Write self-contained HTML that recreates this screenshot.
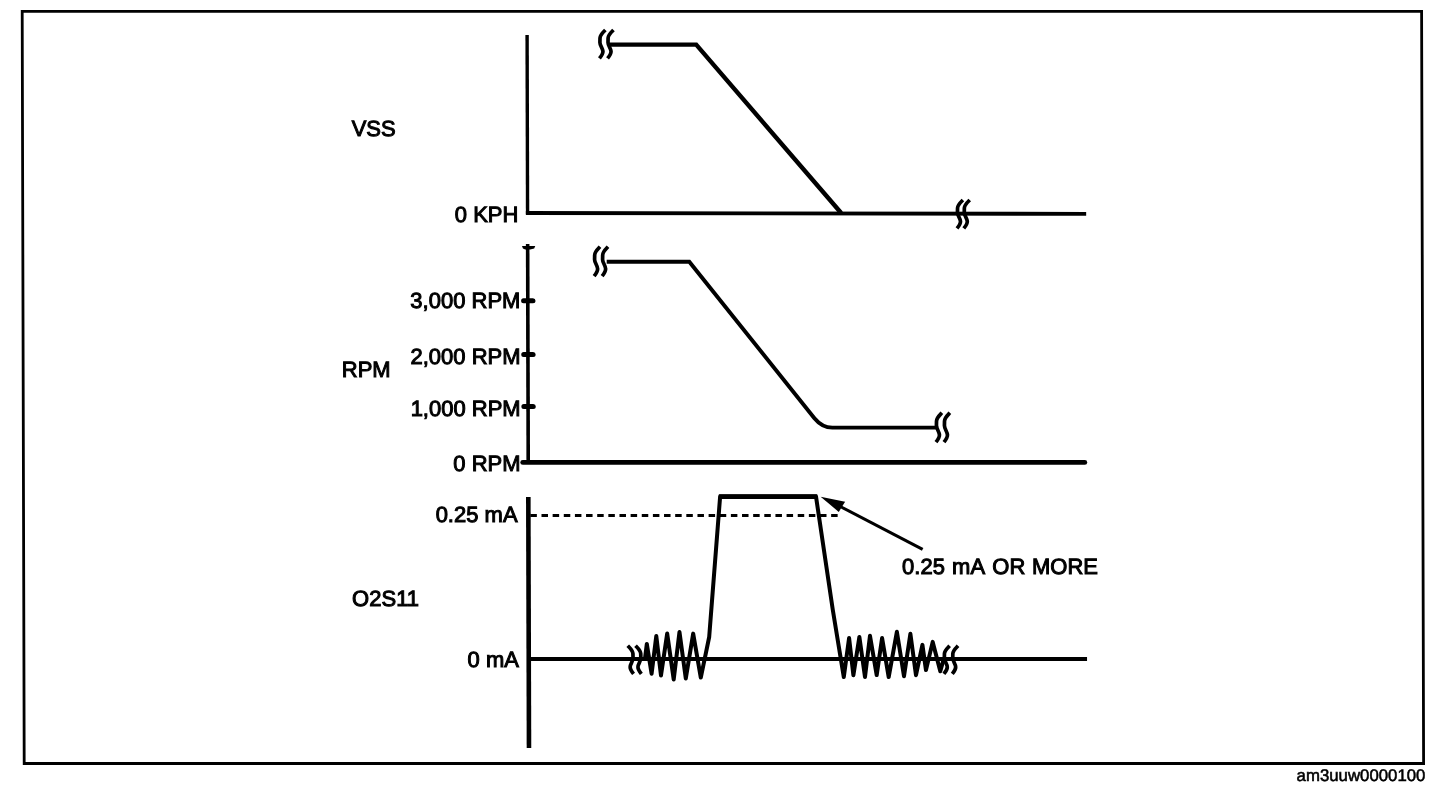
<!DOCTYPE html>
<html lang="en">
<head>
<meta charset="utf-8">
<title>O2S11 waveform</title>
<style>
html,body{margin:0;padding:0;background:#fff;}
body{width:1456px;height:786px;position:relative;overflow:hidden;font-family:"Liberation Sans",Arial,Helvetica,sans-serif;}
</style>
</head>
<body>
<svg width="1456" height="786" viewBox="0 0 1456 786" style="position:absolute;left:0;top:0;font-family:'Liberation Sans',Arial,Helvetica,sans-serif" fill="#000">
<path d="M22.2,11.4 L1421.6,11.4 L1423.6,763.5 L24.2,763.5 Z" fill="none" stroke="#000" stroke-width="2.8" stroke-linejoin="miter"/>
<g transform="matrix(1 0 0.00265 1 0 0)">
<path d="M527,35 L527,214" fill="none" stroke="#000" stroke-width="3.4"/>
<path d="M525.3,213.0 L1085.6,213.9" fill="none" stroke="#000" stroke-width="3.9"/>
<path d="M608,44.6 L696.1,44.6 L840.6,213" fill="none" stroke="#000" stroke-width="4.4" stroke-linejoin="miter"/>
<path d="M605.3,30.0 C603.3,32.0 600.1,34.7 599.9,38.0 L599.8,42.4 C599.8,45.7 602.7,48.2 602.8,51.4 C602.9,54.0 601.1,56.2 599.3,58.4" fill="none" stroke="#000" stroke-width="3.7" stroke-linecap="butt" stroke-linejoin="round"/>
<path d="M613.4,30.0 C611.4,32.0 608.2,34.7 608.0,38.0 L607.9,42.4 C607.9,45.7 610.8,48.2 610.9,51.4 C611.0,54.0 609.2,56.2 607.4,58.4" fill="none" stroke="#000" stroke-width="3.7" stroke-linecap="butt" stroke-linejoin="round"/>
<path d="M962.4,200.0 C960.4,202.0 957.2,204.7 957.0,208.0 L956.9,212.4 C956.9,215.7 959.8,218.2 959.9,221.4 C960.0,224.0 958.2,226.2 956.4,228.4" fill="none" stroke="#000" stroke-width="3.7" stroke-linecap="butt" stroke-linejoin="round"/>
<path d="M969.2,200.0 C967.2,202.0 964.0,204.7 963.8,208.0 L963.7,212.4 C963.7,215.7 966.6,218.2 966.7,221.4 C966.8,224.0 965.0,226.2 963.2,228.4" fill="none" stroke="#000" stroke-width="3.7" stroke-linecap="butt" stroke-linejoin="round"/>
<path d="M527,244 L527,462.4" fill="none" stroke="#000" stroke-width="3.6"/>
<path d="M521.5,462.4 L1083.6,462.4" fill="none" stroke="#000" stroke-width="4.8" stroke-linecap="round"/>
<path d="M521.3,246 L534.6,246 L533.5,248.6 L529.5,249.6 L524.5,249.6 L522.3,248.6 Z" fill="#000"/>
<line x1="522.8" y1="300.7" x2="532.2" y2="300.7" stroke="#000" stroke-width="5" stroke-linecap="round"/>
<line x1="522.8" y1="354.5" x2="532.2" y2="354.5" stroke="#000" stroke-width="5" stroke-linecap="round"/>
<line x1="522.8" y1="406.5" x2="532.2" y2="406.5" stroke="#000" stroke-width="5" stroke-linecap="round"/>
<path d="M606,261.8 L688.6,261.8 L813.3,418.2 Q821,427.6 831.2,427.6 L937,427.6" fill="none" stroke="#000" stroke-width="3.9" stroke-linejoin="miter"/>
<path d="M599.4,246.7 C597.4,248.8 594.2,251.6 594.0,255.0 L593.9,259.5 C593.9,262.9 596.8,265.5 596.9,268.8 C597.0,271.5 595.2,273.8 593.4,276.1" fill="none" stroke="#000" stroke-width="3.7" stroke-linecap="butt" stroke-linejoin="round"/>
<path d="M607.4,246.7 C605.4,248.8 602.2,251.6 602.0,255.0 L601.9,259.5 C601.9,262.9 604.8,265.5 604.9,268.8 C605.0,271.5 603.2,273.8 601.4,276.1" fill="none" stroke="#000" stroke-width="3.7" stroke-linecap="butt" stroke-linejoin="round"/>
<path d="M940.8,412.8 C938.8,414.9 935.6,417.7 935.4,421.1 L935.3,425.6 C935.3,429.1 938.2,431.6 938.3,434.9 C938.4,437.6 936.6,439.9 934.8,442.2" fill="none" stroke="#000" stroke-width="3.7" stroke-linecap="butt" stroke-linejoin="round"/>
<path d="M948.8,412.8 C946.8,414.9 943.6,417.7 943.4,421.1 L943.3,425.6 C943.3,429.1 946.2,431.6 946.3,434.9 C946.4,437.6 944.6,439.9 942.8,442.2" fill="none" stroke="#000" stroke-width="3.7" stroke-linecap="butt" stroke-linejoin="round"/>
<path d="M527,497 L527,748" fill="none" stroke="#000" stroke-width="4.6"/>
<path d="M527,659 L1085.3,659" fill="none" stroke="#000" stroke-width="4.2"/>
<line x1="529" y1="515.4" x2="837.5" y2="515.4" stroke="#000" stroke-width="3.0" stroke-dasharray="6.5 4.64"/>
<path d="M643.2,659.0 L645.1,643.9 L649.8,673.8 L654.6,635.9 L659.2,675.5 L665.5,633.6 L671.9,679.5 L677.8,631.9 L684.0,678.4 L691.5,633.6 L699.0,677.6 L707.5,637.0 L718.8,496.6 L814.7,496.6 L831.2,610.0 L842.0,677.1 L847.4,638.0 L851.6,675.2 L857.7,636.9 L863.2,677.1 L868.3,635.8 L874.9,675.1 L880.4,638.0 L886.9,677.1 L895.2,631.8 L902.2,676.2 L908.7,633.8 L914.2,675.2 L920.7,644.9 L924.2,670.1 L931.0,641.9 L938.5,671.2 L942.0,659.0" fill="none" stroke="#000" stroke-width="4" stroke-linejoin="round" stroke-linecap="round"/>
<line x1="717.5" y1="496.6" x2="816" y2="496.6" stroke="#000" stroke-width="4.7"/>
<path d="M626.0,645.7 C627.9,647.7 631.0,650.4 631.2,653.6 L631.3,658.0 C631.3,661.3 628.5,663.8 628.4,667.0 C628.3,669.5 630.1,671.7 631.8,673.9" fill="none" stroke="#000" stroke-width="3.7" stroke-linecap="butt" stroke-linejoin="round"/>
<path d="M633.8,645.7 C635.7,647.7 638.8,650.4 639.0,653.6 L639.1,658.0 C639.1,661.3 636.3,663.8 636.2,667.0 C636.1,669.5 637.9,671.7 639.6,673.9" fill="none" stroke="#000" stroke-width="3.7" stroke-linecap="butt" stroke-linejoin="round"/>
<path d="M947.9,645.8 C946.0,647.8 942.9,650.4 942.7,653.7 L942.6,658.1 C942.6,661.3 945.4,663.8 945.5,667.0 C945.6,669.6 943.8,671.7 942.1,673.9" fill="none" stroke="#000" stroke-width="3.7" stroke-linecap="butt" stroke-linejoin="round"/>
<path d="M956.3,645.8 C954.4,647.8 951.3,650.4 951.1,653.7 L951.0,658.1 C951.0,661.3 953.8,663.8 953.9,667.0 C954.0,669.6 952.2,671.7 950.5,673.9" fill="none" stroke="#000" stroke-width="3.7" stroke-linecap="butt" stroke-linejoin="round"/>
<line x1="921.2" y1="549.3" x2="838" y2="506" stroke="#000" stroke-width="3"/>
<path d="M819.3,496.7 L843.8,501.7 L837.4,511.9 Z" fill="#000"/>
<text x="351.3" y="136.0" font-size="22" text-anchor="start" stroke="#000" stroke-width="1">VSS</text>
<text x="517.8" y="222.4" font-size="22" text-anchor="end" stroke="#000" stroke-width="1">0 KPH</text>
<text x="519.6" y="308.0" font-size="22" text-anchor="end" stroke="#000" stroke-width="1">3,000 RPM</text>
<text x="519.6" y="363.8" font-size="22" text-anchor="end" stroke="#000" stroke-width="1">2,000 RPM</text>
<text x="519.6" y="415.7" font-size="22" text-anchor="end" stroke="#000" stroke-width="1">1,000 RPM</text>
<text x="519.3" y="470.6" font-size="22" text-anchor="end" stroke="#000" stroke-width="1">0 RPM</text>
<text x="340.8" y="377.2" font-size="22" text-anchor="start" stroke="#000" stroke-width="1">RPM</text>
<text x="516.2" y="522.3" font-size="22" text-anchor="end" stroke="#000" stroke-width="1">0.25 mA</text>
<text x="350.5" y="606.4" font-size="22" text-anchor="start" stroke="#000" stroke-width="1">O2S11</text>
<text x="517.2" y="667.0" font-size="22" text-anchor="end" stroke="#000" stroke-width="1">0 mA</text>
<text y="574.5" font-size="22" stroke="#000" stroke-width="1.0"><tspan x="900.6">0.25</tspan> <tspan x="950.6">mA</tspan> <tspan x="990.8">OR</tspan> <tspan x="1030.5">MORE</tspan></text>
<text x="1423.4" y="781.3" font-size="16.8" text-anchor="end" stroke="#000" stroke-width="0.55">am3uuw0000100</text>
</g>
</svg>
</body>
</html>
